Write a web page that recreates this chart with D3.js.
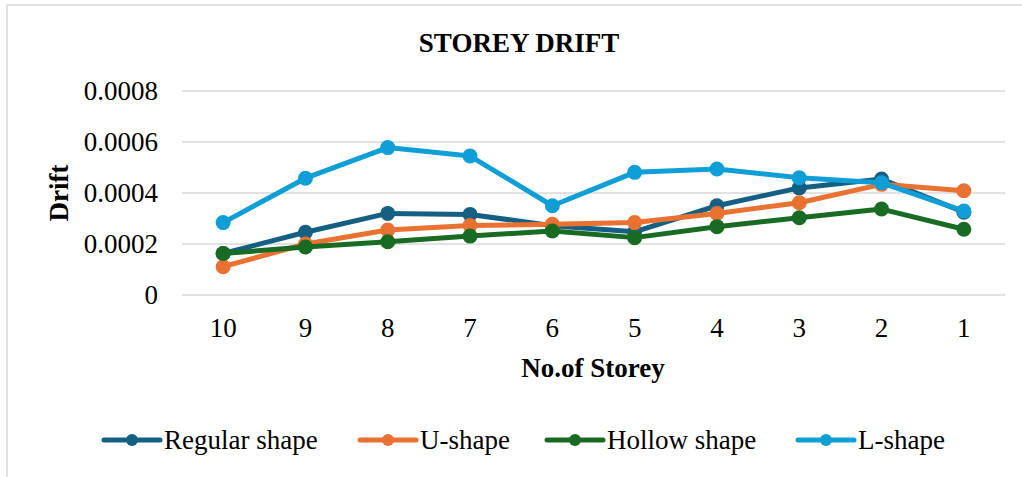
<!DOCTYPE html>
<html>
<head>
<meta charset="utf-8">
<script src="https://cdn.jsdelivr.net/npm/d3@7"></script>
<style>
  body { margin: 0; background: #fff; }
  svg text { font-family: 'Liberation Serif', 'Times New Roman', Times, serif !important; }
</style>
</head>
<body>
<svg id="chart" width="1022" height="477"></svg>
<script>
const storeys = ['10', '9', '8', '7', '6', '5', '4', '3', '2', '1'];
const regularShape = [0.000163, 0.000246, 0.00032, 0.000316, 0.000272, 0.000248, 0.00035, 0.00042, 0.000455, 0.000325];
const uShape = [0.000111, 0.0002, 0.000255, 0.000273, 0.000277, 0.000284, 0.00032, 0.000362, 0.000434, 0.000409];
const hollowShape = [0.000163, 0.000188, 0.000209, 0.000231, 0.000251, 0.000225, 0.000268, 0.000303, 0.000337, 0.000258];
const lShape = [0.000284, 0.000458, 0.000578, 0.000545, 0.00035, 0.000481, 0.000494, 0.00046, 0.00044, 0.000329];
const yTicks = [0, 0.0002, 0.0004, 0.0006, 0.0008];

const series = [
  { name: 'Regular shape', values: regularShape, color: '#156082' },
  { name: 'U-shape', values: uShape, color: '#e97132' },
  { name: 'Hollow shape', values: hollowShape, color: '#196b24' },
  { name: 'L-shape', values: lShape, color: '#0f9ed5' }
];

const margin = { top: 91, right: 17, bottom: 182, left: 182 };
const width = 1022, height = 477;
const serif = "'Liberation Serif', 'Times New Roman', Times, serif";

const svg = d3.select('#chart');

// chart area border (only top and left edges show in frame)
svg.append('rect')
  .attr('x', 7).attr('y', 5)
  .attr('width', 1030).attr('height', 500)
  .attr('fill', 'none')
  .attr('stroke', '#d9d9d9')
  .attr('stroke-width', 1.5);

const x = d3.scaleBand()
  .domain(storeys)
  .range([margin.left, width - margin.right]);

const y = d3.scaleLinear()
  .domain([0, 0.0008])
  .range([295, margin.top]);

// gridlines
svg.append('g')
  .selectAll('line')
  .data(yTicks)
  .join('line')
    .attr('x1', margin.left)
    .attr('x2', width - margin.right)
    .attr('y1', d => y(d))
    .attr('y2', d => y(d))
    .attr('stroke', '#d9d9d9')
    .attr('stroke-width', 1.5);

// y axis labels
const yAxis = svg.append('g')
  .attr('transform', `translate(${margin.left - 24},0)`)
  .call(d3.axisLeft(y).tickValues(yTicks).tickSize(0).tickPadding(0)
    .tickFormat(d => d === 0 ? '0' : d3.format('.4f')(d)));
yAxis.attr('font-family', serif).attr('font-size', 27);
yAxis.select('.domain').remove();
yAxis.selectAll('text').attr('fill', '#000');

// x axis labels
const xAxis = svg.append('g')
  .attr('transform', 'translate(0,318)')
  .call(d3.axisBottom(x).tickSize(0).tickPadding(0));
xAxis.attr('font-family', serif).attr('font-size', 27);
xAxis.select('.domain').remove();
xAxis.selectAll('text').attr('fill', '#000');

// title and axis titles
svg.append('text')
  .attr('x', 519).attr('y', 52)
  .attr('text-anchor', 'middle')
  .attr('font-size', 27)
  .attr('font-weight', 'bold')
  .text('STOREY DRIFT');

svg.append('text')
  .attr('x', 593).attr('y', 377)
  .attr('text-anchor', 'middle')
  .attr('font-size', 27)
  .attr('font-weight', 'bold')
  .text('No.of Storey');

svg.append('text')
  .attr('transform', 'translate(68,193) rotate(-90)')
  .attr('text-anchor', 'middle')
  .attr('font-size', 27)
  .attr('font-weight', 'bold')
  .text('Drift');

// lines + markers
const line = d3.line()
  .x((d, i) => x(storeys[i]) + x.bandwidth() / 2)
  .y(d => y(d));

const seriesG = svg.append('g')
  .selectAll('g')
  .data(series)
  .join('g');

seriesG.append('path')
  .attr('d', d => line(d.values))
  .attr('fill', 'none')
  .attr('stroke', d => d.color)
  .attr('stroke-width', 5)
  .attr('stroke-linejoin', 'round')
  .attr('stroke-linecap', 'round');

seriesG.selectAll('circle')
  .data(d => d.values.map(v => ({ v, color: d.color })))
  .join('circle')
    .attr('cx', (d, i) => x(storeys[i]) + x.bandwidth() / 2)
    .attr('cy', d => y(d.v))
    .attr('r', 7.5)
    .attr('fill', d => d.color);

// legend
const legendX = [104, 360, 547, 798];
const legend = svg.append('g')
  .selectAll('g')
  .data(series)
  .join('g')
    .attr('transform', (d, i) => `translate(${legendX[i]},440)`);

legend.append('line')
  .attr('x1', 0).attr('x2', 56)
  .attr('stroke', d => d.color)
  .attr('stroke-width', 5)
  .attr('stroke-linecap', 'round');

legend.append('circle')
  .attr('cx', 28).attr('r', 6)
  .attr('fill', d => d.color);

legend.append('text')
  .attr('x', 60).attr('y', 9)
  .attr('font-size', 27)
  .text(d => d.name);
</script>
</body>
</html>
